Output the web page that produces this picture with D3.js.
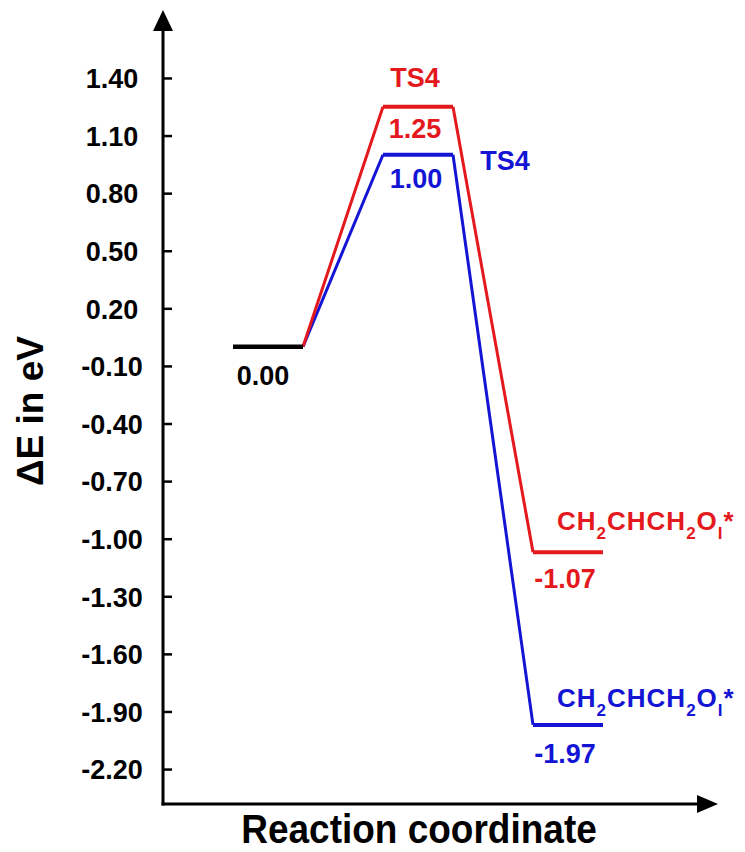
<!DOCTYPE html>
<html>
<head>
<meta charset="utf-8">
<script src="https://cdn.jsdelivr.net/npm/d3@7"></script>
<style>
  html, body { margin: 0; padding: 0; background: #fff; }
  svg { display: block; }
  text { font-family: "Liberation Sans", Arial, sans-serif; font-weight: bold; }
</style>
</head>
<body>
<script>
// ---- data ----
const stages = ["IS", "TS4", "FS"];
const stagePos = [1, 2, 3];
const redEnergies = [0.00, 1.25, -1.07];
const blueEnergies = [0.00, 1.00, -1.97];
const yTicks = [1.40, 1.10, 0.80, 0.50, 0.20, -0.10, -0.40, -0.70, -1.00, -1.30, -1.60, -1.90, -2.20];
const tsLabel = "TS4";
const productParts = [["CH", "n"], ["2", "sub"], ["CHCH", "n"], ["2", "sub"], ["O", "n"], ["I", "sub"], ["*", "n"]];
const yTitle = "ΔE in eV";
const xTitle = "Reaction coordinate";

const RED = "#e4191d", BLUE = "#1414d4", BLACK = "#000";

const W = 745, H = 852;
const svg = d3.select("body").append("svg").attr("width", W).attr("height", H);

const x = d3.scaleLinear().domain([0.3, 4.0]).range([163, 718]);
const y = d3.scaleLinear().domain([-2.382, 1.754]).range([804, 10]);
const hw = 0.2333;
const fmt0 = d3.format(".2f");
const fmt = v => fmt0(v).replace("\u2212", "-");

// ---- axes ----
const axisX0 = x(0.3), axisY0 = y(-2.382);
const yAxis = d3.axisLeft(y).tickValues(yTicks).tickSize(-9).tickFormat(fmt);
const gy = svg.append("g").attr("transform", `translate(${axisX0},0)`).call(yAxis);
gy.select(".domain").remove();
gy.selectAll(".tick line").attr("stroke", BLACK).attr("stroke-width", 2.5);
gy.selectAll(".tick text")
  .attr("x", -51).attr("text-anchor", "middle").attr("dy", "0.36em")
  .attr("fill", BLACK).style("font-size", "27px");

// axis lines
svg.append("line").attr("x1", axisX0).attr("x2", axisX0).attr("y1", axisY0 + 1.5).attr("y2", y(1.754) + 14)
  .attr("stroke", BLACK).attr("stroke-width", 3);
svg.append("line").attr("x1", axisX0 - 1.5).attr("x2", x(4.0) - 14).attr("y1", axisY0).attr("y2", axisY0)
  .attr("stroke", BLACK).attr("stroke-width", 3);
// arrow heads
const ty = y(1.754);
svg.append("path").attr("d", `M${axisX0},${ty} L${axisX0 - 10},${ty + 21} L${axisX0 + 10},${ty + 21} Z`).attr("fill", BLACK);
const tx = x(4.0);
svg.append("path").attr("d", `M${tx},${axisY0} L${tx - 21},${axisY0 - 9} L${tx - 21},${axisY0 + 9} Z`).attr("fill", BLACK);

// titles
svg.append("text").attr("transform", `translate(43,411) rotate(-90)`)
  .attr("text-anchor", "middle").style("font-size", "37px").attr("fill", BLACK).text(yTitle);
svg.append("text").attr("transform", `translate(419,843) scale(1,1.08)`)
  .attr("text-anchor", "middle").style("font-size", "37px").attr("fill", BLACK).text(xTitle);

// ---- profiles ----
function drawProfile(energies, color) {
  const g = svg.append("g");
  for (let i = 1; i < energies.length; i++) {
    g.append("line")
      .attr("x1", x(stagePos[i - 1] + hw)).attr("y1", y(energies[i - 1]))
      .attr("x2", x(stagePos[i] - hw)).attr("y2", y(energies[i]))
      .attr("stroke", color).attr("stroke-width", 3);
    g.append("line")
      .attr("x1", x(stagePos[i] - hw)).attr("x2", x(stagePos[i] + hw))
      .attr("y1", y(energies[i])).attr("y2", y(energies[i]))
      .attr("stroke", color).attr("stroke-width", 4);
  }
  return g;
}
drawProfile(blueEnergies, BLUE);
drawProfile(redEnergies, RED);
// initial shared level
svg.append("line")
  .attr("x1", x(stagePos[0] - hw)).attr("x2", x(stagePos[0] + hw))
  .attr("y1", y(redEnergies[0])).attr("y2", y(redEnergies[0]))
  .attr("stroke", BLACK).attr("stroke-width", 4.5);

// ---- labels ----
function label(text, px, py, color, anchor) {
  return svg.append("text").attr("x", px).attr("y", py).attr("text-anchor", anchor || "middle")
    .attr("fill", color).style("font-size", "27px").text(text);
}
label(fmt(redEnergies[0]), x(stagePos[0]) - 5, y(redEnergies[0]) + 38, BLACK);
label(tsLabel, x(stagePos[1]) - 3, y(redEnergies[1]) - 20, RED);
label(fmt(redEnergies[1]), x(stagePos[1]) - 3, y(redEnergies[1]) + 31, RED);
label(tsLabel, x(stagePos[1]) + 87, y(blueEnergies[1]) + 15, BLUE);
label(fmt(blueEnergies[1]), x(stagePos[1]) - 2, y(blueEnergies[1]) + 33, BLUE);
label(fmt(redEnergies[2]), x(stagePos[2]) - 3, y(redEnergies[2]) + 36, RED);
label(fmt(blueEnergies[2]), x(stagePos[2]) - 3, y(blueEnergies[2]) + 38, BLUE);

function product(px, py, color) {
  const t = svg.append("text").attr("x", px).attr("y", py).attr("fill", color)
    .style("font-size", "26px").style("letter-spacing", "1px");
  productParts.forEach(([s, kind], i) => {
    const prev = i > 0 ? productParts[i - 1][1] : "n";
    let dy = 0;
    if (kind === "sub" && prev !== "sub") dy = 9;
    if (kind !== "sub" && prev === "sub") dy = -9;
    const ts = t.append("tspan").attr("dy", dy).text(s);
    if (kind === "sub") ts.style("font-size", "17px");
  });
}
product(x(stagePos[2]) - 11, y(redEnergies[2]) - 22, RED);
product(x(stagePos[2]) - 11, y(blueEnergies[2]) - 18, BLUE);
</script>
</body>
</html>
